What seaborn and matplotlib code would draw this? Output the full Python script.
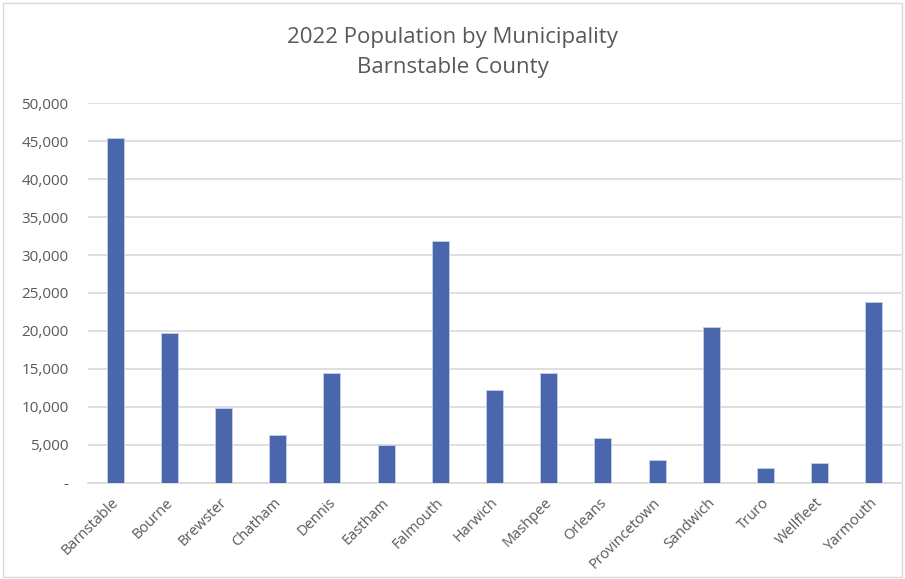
import matplotlib
matplotlib.use("Agg")
import matplotlib.pyplot as plt
import matplotlib.transforms as mtransforms
import seaborn as sns
import pandas as pd
from matplotlib.ticker import FuncFormatter, MultipleLocator
from matplotlib.patches import Rectangle

municipalities = ["Barnstable", "Bourne", "Brewster", "Chatham", "Dennis", "Eastham",
                  "Falmouth", "Harwich", "Mashpee", "Orleans", "Provincetown",
                  "Sandwich", "Truro", "Wellfleet", "Yarmouth"]
population = [45400, 19770, 9800, 6240, 14500, 5000, 31800, 12200, 14400, 5930,
              2940, 20500, 1930, 2640, 23850]

title_lines = ["2022 Population by Municipality", "Barnstable County"]

sns.set_theme(style="white")
plt.rcParams['font.family'] = ['Open Sans', 'DejaVu Sans']

df = pd.DataFrame({"Municipality": municipalities, "Population": population})

fig = plt.figure(figsize=(9.05, 5.79), dpi=100)
ax = fig.add_axes([88/905, 1-482.7/579, (901-88)/905, (482.7-103.3)/579])

sns.barplot(data=df, x="Municipality", y="Population", color="#4A67AD",
            width=0.31, saturation=1, edgecolor="#C5CFE6", linewidth=0.6, ax=ax, zorder=3)

ax.set_ylim(0, 50000)
ax.yaxis.set_major_locator(MultipleLocator(5000))
ax.yaxis.set_major_formatter(FuncFormatter(lambda v, p: "-" if v == 0 else f"{int(v):,}"))
ax.grid(axis="y", color="#D9D9D9", linewidth=1.2, zorder=0)
ax.set_axisbelow(True)
for s in ["top", "right", "left"]:
    ax.spines[s].set_visible(False)
ax.spines["bottom"].set_color("#D9D9D9")
ax.spines["bottom"].set_linewidth(1.2)
ax.set_xlabel("")
ax.set_ylabel("")
ax.tick_params(axis="y", length=0, pad=14, labelsize=11, labelcolor="#595959")
ax.tick_params(axis="x", length=0, pad=9, labelsize=10.5, labelcolor="#595959")
offset = mtransforms.ScaledTranslation(-4/100, 0, fig.dpi_scale_trans)
for lbl in ax.get_xticklabels():
    lbl.set_rotation(45)
    lbl.set_ha("right")
    lbl.set_rotation_mode("anchor")
    lbl.set_transform(lbl.get_transform() + offset)

fig.text(0.5, 1 - 37/579, title_lines[0], ha="center", va="center", fontsize=16, color="#595959")
fig.text(0.5, 1 - 67/579, title_lines[1], ha="center", va="center", fontsize=16, color="#595959")

fig.patches.append(Rectangle((3/905, 2/579), 899/905, 574/579, transform=fig.transFigure,
                             fill=False, edgecolor="#D9D9D9", linewidth=1))

fig.savefig("out.png", dpi=100, facecolor="white")
